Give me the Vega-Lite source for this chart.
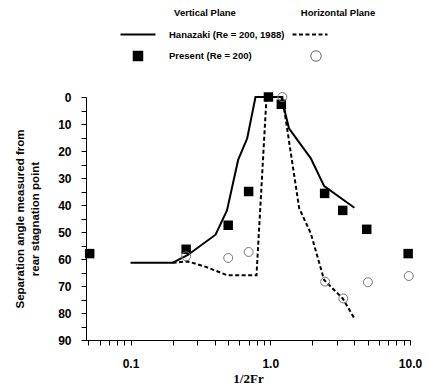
{
  "$schema": "https://vega.github.io/schema/vega-lite/v6.json",
  "padding": {"left": 14, "top": 0, "right": 0, "bottom": 0},
  "background": "white",
  "config": {
    "view": {"stroke": null},
    "font": "Liberation Sans",
    "axis": {"grid": false, "domainColor": "#000", "tickColor": "#000", "labelColor": "#000", "titleColor": "#000"}
  },
  "spacing": 26,
  "datasets": {
    "legend": [
      {"column": "Vertical Plane", "row": "head", "label": "Vertical Plane", "kind": "header"},
      {"column": "Horizontal Plane", "row": "head", "label": "Horizontal Plane", "kind": "header"},
      {"column": "Vertical Plane", "row": "Hanazaki", "label": "Hanazaki (Re = 200, 1988)", "kind": "label"},
      {"column": "Vertical Plane", "row": "Present", "label": "Present (Re = 200)", "kind": "label"},
      {"column": "Vertical Plane", "row": "Hanazaki", "kind": "solid"},
      {"column": "Horizontal Plane", "row": "Hanazaki", "kind": "dashed"},
      {"column": "Vertical Plane", "row": "Present", "kind": "square"},
      {"column": "Horizontal Plane", "row": "Present", "kind": "circle"}
    ],
    "main": [
      {"s": "HV", "x": 0.1, "y": 61.4},
      {"s": "HV", "x": 0.2, "y": 61.4},
      {"s": "HV", "x": 0.257, "y": 58.5},
      {"s": "HV", "x": 0.406, "y": 51},
      {"s": "HV", "x": 0.49, "y": 42},
      {"s": "HV", "x": 0.589, "y": 23.3},
      {"s": "HV", "x": 0.684, "y": 15.3},
      {"s": "HV", "x": 0.784, "y": 0},
      {"s": "HV", "x": 1.2, "y": 0},
      {"s": "HV", "x": 1.36, "y": 11.6},
      {"s": "HV", "x": 1.95, "y": 22.7},
      {"s": "HV", "x": 2.43, "y": 33},
      {"s": "HV", "x": 4.0, "y": 41},
      {"s": "HH", "x": 0.2, "y": 61.4},
      {"s": "HH", "x": 0.257, "y": 60.9},
      {"s": "HH", "x": 0.35, "y": 63},
      {"s": "HH", "x": 0.49, "y": 66},
      {"s": "HH", "x": 0.797, "y": 66},
      {"s": "HH", "x": 0.94, "y": 0},
      {"s": "HH", "x": 1.22, "y": 0},
      {"s": "HH", "x": 1.61, "y": 41.2},
      {"s": "HH", "x": 1.95, "y": 50.5},
      {"s": "HH", "x": 2.43, "y": 67.8},
      {"s": "HH", "x": 3.3, "y": 74.6},
      {"s": "HH", "x": 4.0, "y": 82},
      {"s": "PV", "x": 0.051, "y": 58},
      {"s": "PV", "x": 0.25, "y": 56.4},
      {"s": "PV", "x": 0.5, "y": 47.5},
      {"s": "PV", "x": 0.7, "y": 35},
      {"s": "PV", "x": 0.97, "y": 0},
      {"s": "PV", "x": 1.2, "y": 2.7},
      {"s": "PV", "x": 2.45, "y": 35.7},
      {"s": "PV", "x": 3.3, "y": 42},
      {"s": "PV", "x": 4.9, "y": 49},
      {"s": "PV", "x": 9.7, "y": 58},
      {"s": "PH", "x": 0.25, "y": 59},
      {"s": "PH", "x": 0.5, "y": 59.6},
      {"s": "PH", "x": 0.7, "y": 57.4},
      {"s": "PH", "x": 1.22, "y": 0},
      {"s": "PH", "x": 2.47, "y": 68.4},
      {"s": "PH", "x": 3.33, "y": 74.6},
      {"s": "PH", "x": 5.0, "y": 68.6},
      {"s": "PH", "x": 9.8, "y": 66.3}
    ]
  },
  "vconcat": [
    {
      "width": 324,
      "height": 62,
      "data": {"name": "legend"},
      "resolve": {"scale": {"x": "independent"}},
      "layer": [
        {
          "transform": [{"filter": "datum.kind == 'header'"}],
          "mark": {"type": "text", "fontSize": 9.5, "fontWeight": "bold", "align": "center", "baseline": "middle", "color": "#000"},
          "encoding": {
            "x": {"field": "column", "type": "nominal", "scale": {"type": "point", "domain": ["Vertical Plane", "Horizontal Plane"], "range": [119, 252], "padding": 0}, "axis": null},
            "y": {"field": "row", "type": "nominal", "scale": {"type": "point", "domain": ["head", "Hanazaki", "Present"], "range": [13, 56], "padding": 0}, "axis": null},
            "text": {"field": "label"}
          }
        },
        {
          "transform": [{"filter": "datum.kind == 'label'"}],
          "mark": {"type": "text", "fontSize": 9.5, "fontWeight": "bold", "align": "left", "baseline": "middle", "dx": 31, "color": "#000"},
          "encoding": {
            "x": {"field": "column", "type": "nominal", "scale": {"type": "point", "domain": ["Vertical Plane", "Horizontal Plane"], "range": [52, 230], "padding": 0}, "axis": null},
            "y": {"field": "row", "type": "nominal", "scale": {"type": "point", "domain": ["head", "Hanazaki", "Present"], "range": [13, 56], "padding": 0}, "axis": null},
            "text": {"field": "label"}
          }
        },
        {
          "transform": [{"filter": "datum.kind == 'solid'"}],
          "mark": {"type": "point", "shape": "stroke", "size": 1225, "stroke": "#000", "strokeWidth": 2, "opacity": 1},
          "encoding": {
            "x": {"field": "column", "type": "nominal", "scale": {"type": "point", "domain": ["Vertical Plane", "Horizontal Plane"], "range": [52, 230], "padding": 0}, "axis": null},
            "y": {"field": "row", "type": "nominal", "scale": {"type": "point", "domain": ["head", "Hanazaki", "Present"], "range": [13, 56], "padding": 0}, "axis": null}
          }
        },
        {
          "transform": [{"filter": "datum.kind == 'dashed'"}],
          "mark": {"type": "point", "shape": "stroke", "size": 1225, "stroke": "#000", "strokeWidth": 2, "strokeDash": [4, 2.5], "opacity": 1, "xOffset": -6},
          "encoding": {
            "x": {"field": "column", "type": "nominal", "scale": {"type": "point", "domain": ["Vertical Plane", "Horizontal Plane"], "range": [52, 230], "padding": 0}, "axis": null},
            "y": {"field": "row", "type": "nominal", "scale": {"type": "point", "domain": ["head", "Hanazaki", "Present"], "range": [13, 56], "padding": 0}, "axis": null}
          }
        },
        {
          "transform": [{"filter": "datum.kind == 'square'"}],
          "mark": {"type": "point", "shape": "square", "size": 110, "filled": true, "color": "#000", "opacity": 1},
          "encoding": {
            "x": {"field": "column", "type": "nominal", "scale": {"type": "point", "domain": ["Vertical Plane", "Horizontal Plane"], "range": [52, 230], "padding": 0}, "axis": null},
            "y": {"field": "row", "type": "nominal", "scale": {"type": "point", "domain": ["head", "Hanazaki", "Present"], "range": [13, 56], "padding": 0}, "axis": null}
          }
        },
        {
          "transform": [{"filter": "datum.kind == 'circle'"}],
          "mark": {"type": "point", "shape": "circle", "size": 110, "filled": false, "stroke": "#666", "strokeWidth": 1, "opacity": 1},
          "encoding": {
            "x": {"field": "column", "type": "nominal", "scale": {"type": "point", "domain": ["Vertical Plane", "Horizontal Plane"], "range": [52, 230], "padding": 0}, "axis": null},
            "y": {"field": "row", "type": "nominal", "scale": {"type": "point", "domain": ["head", "Hanazaki", "Present"], "range": [13, 56], "padding": 0}, "axis": null}
          }
        }
      ]
    },
    {
      "width": 324,
      "height": 243,
      "data": {"name": "main"},
      "encoding": {
        "x": {
          "field": "x", "type": "quantitative",
          "scale": {"type": "log", "domain": [0.048, 10], "nice": false},
          "axis": {
            "title": "1/2Fr",
            "titleFont": "Liberation Serif", "titleFontWeight": "bold", "titleFontSize": 13, "titlePadding": 3,
            "values": [0.05, 0.06, 0.07, 0.08, 0.09, 0.1, 0.2, 0.3, 0.4, 0.5, 0.6, 0.7, 0.8, 0.9, 1, 2, 3, 4, 5, 6, 7, 8, 9, 10],
            "labelExpr": "abs(datum.value - 0.1) < 1e-9 ? '0.1' : abs(datum.value - 1) < 1e-9 ? '1.0' : abs(datum.value - 10) < 1e-9 ? '10.0' : ''",
            "labelFontSize": 12, "labelFontWeight": "bold", "labelPadding": 13, "labelFlush": false, "labelOverlap": false, "labelBound": false,
            "tickSize": 5
          }
        },
        "y": {
          "field": "y", "type": "quantitative",
          "scale": {"domain": [0, 90], "reverse": true, "nice": false},
          "axis": {
            "title": ["Separation angle measured from", "rear stagnation point"],
            "titleFontSize": 11.5, "titleFontWeight": "bold", "titlePadding": 17, "titleLineHeight": 15,
            "values": [0, 5, 10, 15, 20, 25, 30, 35, 40, 45, 50, 55, 60, 65, 70, 75, 80, 85, 90],
            "labelExpr": "datum.value % 10 == 0 ? datum.label : ''",
            "labelFontSize": 12, "labelFontWeight": "bold", "labelPadding": 10, "labelFlush": false, "labelOverlap": false,
            "tickSize": 5
          }
        }
      },
      "layer": [
        {
          "transform": [{"filter": "datum.s == 'HV'"}],
          "mark": {"type": "line", "color": "#000", "strokeWidth": 2}
        },
        {
          "transform": [{"filter": "datum.s == 'HH'"}],
          "mark": {"type": "line", "color": "#000", "strokeWidth": 2, "strokeDash": [4, 2.5]}
        },
        {
          "transform": [{"filter": "datum.s == 'PV'"}],
          "mark": {"type": "point", "shape": "square", "size": 90, "filled": true, "color": "#000", "opacity": 1}
        },
        {
          "transform": [{"filter": "datum.s == 'PH'"}],
          "mark": {"type": "point", "shape": "circle", "size": 80, "filled": false, "stroke": "#777", "strokeWidth": 1, "opacity": 1}
        }
      ]
    }
  ]
}
